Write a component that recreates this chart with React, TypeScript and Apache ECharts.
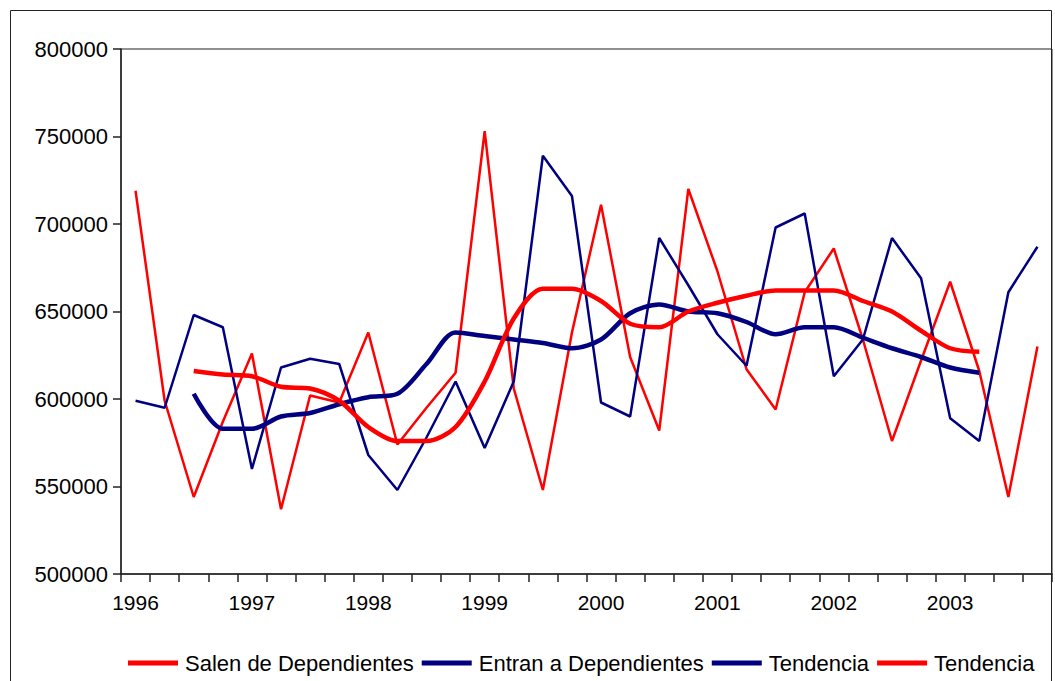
import React, { useEffect, useRef } from "react";
import * as echarts from "echarts";

const years = ["1996", "1997", "1998", "1999", "2000", "2001", "2002", "2003"];
const quarters = ["T1", "T2", "T3", "T4"];
const categories = years.flatMap((y) => quarters.map((q) => `${y} ${q}`));

const salen = [
  719000, 599000, 544000, 587000, 626000, 537000, 602000, 598000,
  638000, 574000, 595000, 615000, 753000, 606000, 548000, 638000,
  711000, 624000, 582000, 720000, 673000, 617000, 594000, 661000,
  686000, 634000, 576000, 622000, 667000, 616000, 544000, 630000,
];

const entran = [
  599000, 595000, 648000, 641000, 560000, 618000, 623000, 620000,
  568000, 548000, 578000, 610000, 572000, 610000, 739000, 716000,
  598000, 590000, 692000, 665000, 637000, 619000, 698000, 706000,
  613000, 634000, 692000, 669000, 589000, 576000, 661000, 687000,
];

const tendenciaEntran = [
  null, null, 603000, 583000, 583000, 590000, 592000, 597000,
  601000, 603000, 620000, 638000, 636000, 634000, 632000, 629000,
  634000, 649000, 654000, 650000, 649000, 644000, 637000, 641000,
  641000, 635000, 629000, 624000, 618000, 615000, null, null,
];

const tendenciaSalen = [
  null, null, 616000, 614000, 613000, 607000, 606000, 599000,
  584000, 576000, 576000, 584000, 610000, 646000, 663000, 663000,
  656000, 643000, 641000, 650000, 655000, 659000, 662000, 662000,
  662000, 656000, 650000, 639000, 629000, 627000, null, null,
];

const RED = "#FF0000";
const NAVY = "#000080";
const FONT = "Liberation Sans, Arial, sans-serif";

export default function App() {
  const ref = useRef<HTMLDivElement>(null);

  useEffect(() => {
    document.body.style.margin = "0";
    if (!ref.current) return;
    const chart = echarts.init(ref.current, undefined, { renderer: "svg" });
    const legendNames: Record<string, string> = {
      "Salen de Dependientes": "Salen de Dependientes",
      "Entran a Dependientes": "Entran a Dependientes",
      TendenciaE: "Tendencia",
      TendenciaS: "Tendencia",
    };
    chart.setOption({
      animation: false,
      backgroundColor: "#ffffff",
      textStyle: { fontFamily: FONT },
      graphic: [
        {
          type: "rect",
          shape: { x: 10.5, y: 10.5, width: 1041, height: 700 },
          style: { fill: "none", stroke: "#222", lineWidth: 1 },
          silent: true,
          z: -1,
        },
      ],
      grid: {
        left: 121,
        right: 3,
        top: 49,
        bottom: 107,
        show: true,
        borderColor: "#222",
        borderWidth: 1,
        backgroundColor: "transparent",
      },
      legend: {
        left: 128,
        top: 652,
        width: 927,
        padding: 0,
        itemWidth: 50,
        itemHeight: 5,
        itemGap: 8,
        icon: "rect",
        textStyle: { fontSize: 22, color: "#000", fontFamily: FONT, padding: [0, 0, 0, 2] },
        formatter: (n: string) => legendNames[n] ?? n,
        data: [
          { name: "Salen de Dependientes", itemStyle: { color: RED } },
          { name: "Entran a Dependientes", itemStyle: { color: NAVY } },
          { name: "TendenciaE", itemStyle: { color: NAVY } },
          { name: "TendenciaS", itemStyle: { color: RED } },
        ],
      },
      xAxis: {
        type: "category",
        data: categories,
        boundaryGap: true,
        axisLine: { show: true, lineStyle: { color: "#222", width: 1.5 } },
        axisTick: { show: true, interval: 0, length: 8, inside: false, lineStyle: { color: "#222", width: 1.5 } },
        axisLabel: {
          interval: 3,
          margin: 18,
          fontSize: 21,
          color: "#000",
          fontFamily: FONT,
          formatter: (v: string) => v.slice(0, 4),
        },
        splitLine: { show: false },
      },
      yAxis: {
        type: "value",
        min: 500000,
        max: 800000,
        interval: 50000,
        axisLine: { show: true, lineStyle: { color: "#222", width: 1.5 } },
        axisTick: { show: true, length: 8, lineStyle: { color: "#222", width: 1.5 } },
        axisLabel: {
          fontSize: 22,
          color: "#000",
          margin: 13,
          fontFamily: FONT,
          formatter: (v: number) => String(v),
        },
        splitLine: { show: false },
      },
      series: [
        {
          name: "Salen de Dependientes",
          type: "line",
          data: salen,
          showSymbol: false,
          symbol: "none",
          lineStyle: { color: RED, width: 2.5 },
          itemStyle: { color: RED },
          z: 2,
        },
        {
          name: "Entran a Dependientes",
          type: "line",
          data: entran,
          showSymbol: false,
          symbol: "none",
          lineStyle: { color: NAVY, width: 2.5 },
          itemStyle: { color: NAVY },
          z: 3,
        },
        {
          name: "TendenciaE",
          type: "line",
          data: tendenciaEntran,
          showSymbol: false,
          symbol: "none",
          smooth: 0.3,
          lineStyle: { color: NAVY, width: 4.5 },
          itemStyle: { color: NAVY },
          z: 4,
        },
        {
          name: "TendenciaS",
          type: "line",
          data: tendenciaSalen,
          showSymbol: false,
          symbol: "none",
          smooth: 0.3,
          lineStyle: { color: RED, width: 4.5 },
          itemStyle: { color: RED },
          z: 5,
        },
      ],
    });
    return () => chart.dispose();
  }, []);

  return <div ref={ref} style={{ width: 1055, height: 681 }} />;
}
